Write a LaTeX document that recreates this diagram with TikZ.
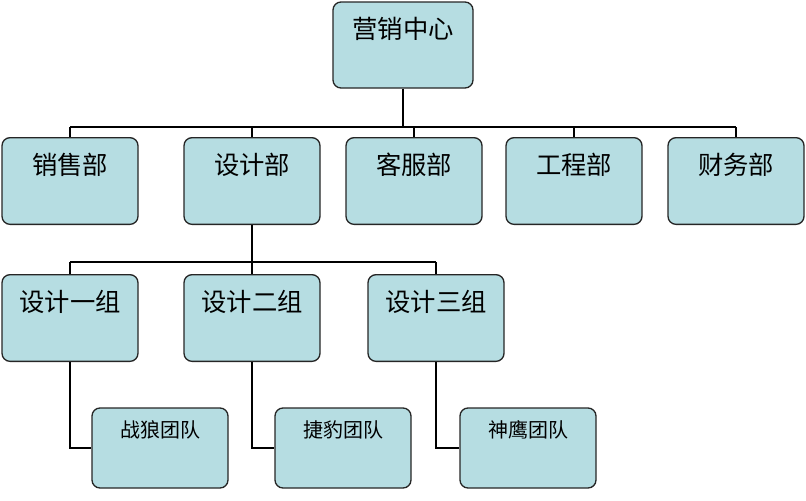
\documentclass[tikz,border=0pt]{standalone}
\usepackage{fontspec}
\setmainfont{Noto Sans CJK SC}
\definecolor{boxfill}{RGB}{182,221,226}
\begin{document}
\begin{tikzpicture}[x=0.75pt,y=-0.75pt,
  box/.style={draw=black!85,line width=1pt,fill=boxfill,rounded corners=6pt,inner sep=0pt,minimum width=102pt,minimum height=65pt},
  big/.style={font=\fontsize{19}{22}\selectfont,anchor=north,inner sep=0pt,yshift=-12pt},
  small/.style={font=\fontsize{15}{18}\selectfont,anchor=north,inner sep=0pt,yshift=-10pt},
  conn/.style={line width=1.5pt,black}]
\useasboundingbox (0,0) rectangle (806,500);
\node[box,minimum width=105pt,minimum height=64.5pt] (top) at (403,45) {};
\node[box] (xs) at (70,181) {};
\node[box] (sj) at (252,181) {};
\node[box] (kf) at (414,181) {};
\node[box] (gc) at (574,181) {};
\node[box] (cw) at (736,181) {};
\node[box] (g1) at (70,318) {};
\node[box] (g2) at (252,318) {};
\node[box] (g3) at (436,318) {};
\node[box,minimum height=60pt] (t1) at (160,448) {};
\node[box,minimum height=60pt] (t2) at (343,448) {};
\node[box,minimum height=60pt] (t3) at (528,448) {};
\node[big] (ltop) at (top.north) {营销中心};
\node[big] (lxs) at (xs.north) {销售部};
\node[big] (lsj) at (sj.north) {设计部};
\node[big] (lkf) at (kf.north) {客服部};
\node[big] (lgc) at (gc.north) {工程部};
\node[big] (lcw) at (cw.north) {财务部};
\node[big] (lg1) at (g1.north) {设计一组};
\node[big] (lg2) at (g2.north) {设计二组};
\node[big] (lg3) at (g3.north) {设计三组};
\node[small] (lt1) at (t1.north) {战狼团队};
\node[small] (lt2) at (t2.north) {捷豹团队};
\node[small] (lt3) at (t3.north) {神鹰团队};
\coordinate (h1) at (0,127);
\coordinate (h2) at (0,262);
\draw[conn] (top.south) -- (top.south |- h1);
\draw[conn] (xs.north |- h1) -- (cw.north |- h1);
\foreach \n in {xs,sj,kf,gc,cw} \draw[conn] (\n.north |- h1) -- (\n.north);
\draw[conn] (sj.south) -- (sj.south |- h2);
\draw[conn] (g1.north |- h2) -- (g3.north |- h2);
\foreach \n in {g1,g2,g3} \draw[conn] (\n.north |- h2) -- (\n.north);
\draw[conn] (g1.south) |- (t1.west);
\draw[conn] (g2.south) |- (t2.west);
\draw[conn] (g3.south) |- (t3.west);
\end{tikzpicture}
\end{document}
